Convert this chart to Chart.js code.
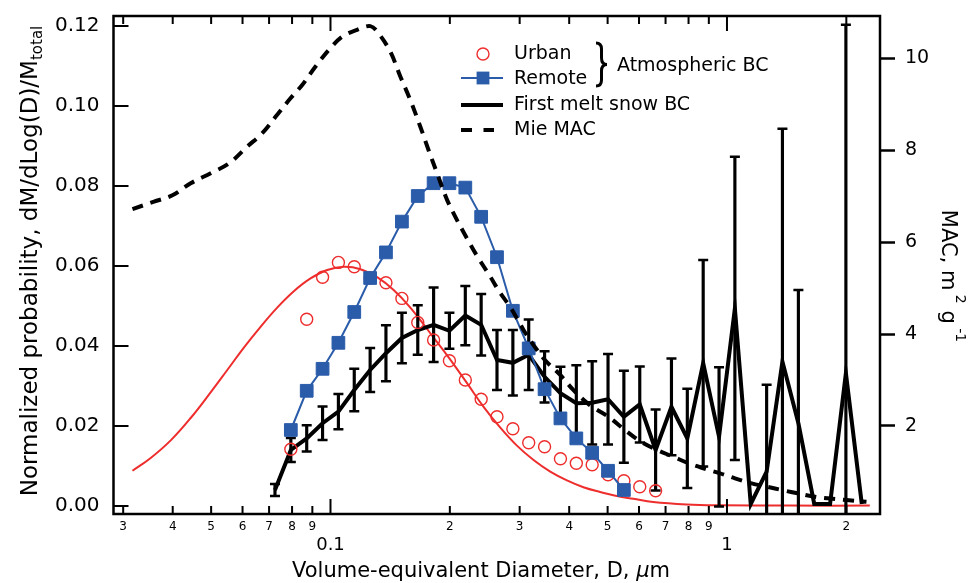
<!DOCTYPE html>
<html>
<head>
<meta charset="utf-8">
<script src="https://cdn.jsdelivr.net/npm/chart.js@4.4.1/dist/chart.umd.min.js"></script>
<style>
  html, body { margin: 0; padding: 0; background: #fff; }
  #grafico { display: block; }
</style>
</head>
<body>
<canvas id="grafico" width="971" height="583"></canvas>
<script>
// -------- DATOS --------
// diametros de los bins (um)
const binD = [0.07244, 0.07943, 0.08710, 0.09550, 0.1047, 0.1148, 0.1259, 0.1380, 0.1514, 0.1660,
    0.1820, 0.1995, 0.2188, 0.2399, 0.2630, 0.2884, 0.3162, 0.3467, 0.3802, 0.4169,
    0.4571, 0.5012, 0.5495, 0.6026, 0.6607, 0.7244, 0.7943, 0.8710, 0.9550, 1.047,
    1.148, 1.259, 1.380, 1.514, 1.660, 1.820, 1.995, 2.188];

const snowVals = [0.0040, 0.0140, 0.0169, 0.0207, 0.0236, 0.0290, 0.0340, 0.0382, 0.0420, 0.0440,
    0.0453, 0.0438, 0.0476, 0.0453, 0.0365, 0.0358, 0.0378, 0.0323, 0.0282, 0.0257,
    0.0258, 0.0267, 0.0223, 0.0254, 0.0140, 0.0248, 0.0169, 0.0357, 0.0173, 0.0494,
    0.0005, 0.0086, 0.0361, 0.0207, 0.0005, 0.0005, 0.0332, 0.0005];

const snowErr = [0.0015, 0.0030, 0.0033, 0.0042, 0.0044, 0.0053, 0.0055, 0.0070, 0.0063, 0.0062,
    0.0093, 0.0045, 0.0074, 0.0077, 0.0075, 0.0082, 0.0088, 0.0064, 0.0066, 0.0095,
    0.0104, 0.0113, 0.0115, 0.0095, 0.0101, 0.0121, 0.0124, 0.0258, 0.0174, 0.0379,
    0, 0.0217, 0.0582, 0.0333, 0, 0, 0.0871, 0];

const urbanD = binD.slice(1, 25);
const urbanVals = [0.0142, 0.0467, 0.0572, 0.0609, 0.0598, 0.0570, 0.0558, 0.0519, 0.0459, 0.0415,
    0.0363, 0.0315, 0.0267, 0.0223, 0.0193, 0.0158, 0.0148, 0.0118, 0.0107, 0.0103,
    0.0078, 0.0063, 0.0048, 0.0038];

const remoteD = binD.slice(1, 23);
const remoteVals = [0.0190, 0.0288, 0.0343, 0.0408, 0.0485, 0.0570, 0.0634, 0.0711, 0.0775, 0.0807,
    0.0807, 0.0796, 0.0723, 0.0622, 0.0488, 0.0394, 0.0292, 0.0219, 0.0169, 0.0133,
    0.0088, 0.0040];

// ajuste lognormal urbano (curva roja)
const fitD = [0.03166, 0.03520, 0.03954, 0.04440, 0.04985, 0.05492, 0.06046, 0.06662, 0.07338, 0.08082,
    0.08906, 0.09811, 0.1080, 0.1190, 0.1311, 0.1443, 0.1590, 0.1820, 0.2005, 0.2210,
    0.2433, 0.2681, 0.2953, 0.3252, 0.3583, 0.3948, 0.4345, 0.4787, 0.5274, 0.5808,
    0.6510, 0.7915, 0.9603, 1.441, 2.292];
const fitVals = [0.0088, 0.0120, 0.0164, 0.0220, 0.0284, 0.0340, 0.0396, 0.0448, 0.0496, 0.0537,
    0.0569, 0.0590, 0.0598, 0.0592, 0.0572, 0.0540, 0.0496, 0.0421, 0.0366, 0.0307,
    0.0248, 0.0196, 0.0151, 0.0115, 0.0086, 0.0064, 0.0047, 0.0035, 0.0025, 0.0018,
    0.0010, 0.0004, 0.0002, 0.0001, 0.0001];

// Mie MAC (eje derecho)
const mieD = [0.03166, 0.03588, 0.03993, 0.04440, 0.04985, 0.05542, 0.06169, 0.06729, 0.07338, 0.07927,
    0.08485, 0.09168, 0.09902, 0.1070, 0.1168, 0.1261, 0.1323, 0.1416, 0.1501, 0.1590,
    0.1685, 0.1768, 0.1857, 0.1968, 0.2085, 0.2210, 0.2342, 0.2529, 0.2681, 0.2840,
    0.3068, 0.3252, 0.3479, 0.3797, 0.4101, 0.4517, 0.5024, 0.5533, 0.6036, 0.6651,
    0.7322, 0.7990, 0.8714, 0.9603, 1.0476, 1.1538, 1.2589, 1.3867, 1.5182, 1.6663,
    1.8281, 2.0026, 2.2481];
const mieMAC = [6.72, 6.88, 7.02, 7.28, 7.50, 7.71, 8.08, 8.37, 8.77, 9.13,
    9.42, 9.82, 10.18, 10.47, 10.62, 10.70, 10.54, 10.14, 9.60, 9.09,
    8.51, 8.00, 7.50, 6.92, 6.48, 6.08, 5.70, 5.25, 4.89, 4.59,
    4.09, 3.76, 3.43, 3.11, 2.78, 2.45, 2.20, 1.91, 1.67, 1.48,
    1.33, 1.19, 1.08, 0.97, 0.86, 0.75, 0.68, 0.60, 0.53, 0.46,
    0.42, 0.39, 0.35];

// ticks
const xTickValues = [0.03, 0.04, 0.05, 0.06, 0.07, 0.08, 0.09, 0.1, 0.2, 0.3, 0.4, 0.5, 0.6, 0.7, 0.8, 0.9, 1, 2];
const xTickLabels = ["3", "4", "5", "6", "7", "8", "9", ["", "0.1"], "2", "3", "4", "5", "6", "7", "8", "9", ["", "1"], "2"];
const xMajor = [0.1, 1];
const yTicks = [0, 0.02, 0.04, 0.06, 0.08, 0.10, 0.12];
const macTicks = [2, 4, 6, 8, 10];

// -------- HELPERS --------
const FAMILIA = "'DejaVu Sans', sans-serif";
const rojo = "#ee2d2d";
const azul = "#2a5caa";

function puntos(xs, ys) {
    return xs.map((x, i) => ({ x: x, y: ys[i] }));
}

function escribir(ctx, partes, x, y, centrar) {
    // partes: [texto, tamaño, desplazamiento vertical, italica]
    const fuente = p => (p[3] ? "italic " : "") + p[1] + "px " + FAMILIA;
    let ancho = 0;
    partes.forEach(p => { ctx.font = fuente(p); ancho += ctx.measureText(p[0]).width; });
    let cx = centrar ? x - ancho / 2 : x;
    partes.forEach(p => {
        ctx.font = fuente(p);
        ctx.fillText(p[0], cx, y + (p[2] || 0));
        cx += ctx.measureText(p[0]).width;
    });
}

// sin relleno automatico de los ejes: el area del grafico queda fija
function sinRelleno(s) {
    s.paddingTop = 0;
    s.paddingBottom = 0;
    s.paddingLeft = 0;
    s.paddingRight = 0;
}

// barras de error y topes
const errBars = [];
const errCaps = [];
binD.forEach((d, i) => {
    if (snowErr[i] > 0) {
        errBars.push({ x: d, y: [snowVals[i] - snowErr[i], snowVals[i] + snowErr[i]] });
        errCaps.push({ x: d, y: snowVals[i] - snowErr[i] });
        errCaps.push({ x: d, y: snowVals[i] + snowErr[i] });
    }
});

// -------- PLUGINS --------
const marcoPlugin = {
    id: "marco",
    afterDraw(chart) {
        const { ctx, chartArea: a, scales } = chart;
        ctx.save();
        ctx.strokeStyle = "#000";
        ctx.lineWidth = 2;
        ctx.beginPath();
        xTickValues.forEach(v => {
            const px = scales.x.getPixelForValue(v);
            const largo = xMajor.includes(v) ? 15 : 8;
            ctx.moveTo(px, a.bottom);
            ctx.lineTo(px, a.bottom - largo);
            ctx.moveTo(px, a.top);
            ctx.lineTo(px, a.top + largo);
        });
        yTicks.forEach(v => {
            const py = scales.y.getPixelForValue(v);
            ctx.moveTo(a.left, py);
            ctx.lineTo(a.left + 15, py);
        });
        ctx.stroke();
        ctx.lineWidth = 2.5;
        ctx.strokeRect(a.left, a.top, a.right - a.left, a.bottom - a.top);
        ctx.restore();
    }
};

const titulosPlugin = {
    id: "titulos",
    afterDraw(chart) {
        const ctx = chart.ctx;
        ctx.save();
        ctx.fillStyle = "#000";
        ctx.textBaseline = "alphabetic";
        escribir(ctx, [["Volume-equivalent Diameter, D, ", 21], ["\u00b5", 21, 0, true], ["m", 21]], 481, 577, true);

        ctx.save();
        ctx.translate(37, 261);
        ctx.rotate(-Math.PI / 2);
        escribir(ctx, [["Normalized probability, dM/dLog(D)/M", 23], ["total", 15, 5]], 0, 0, true);
        ctx.restore();

        ctx.save();
        ctx.translate(942, 276);
        ctx.rotate(Math.PI / 2);
        escribir(ctx, [["MAC, m", 21], [" 2", 14, -14], [" g", 21], [" -1", 14, -14]], 0, 0, true);
        ctx.restore();
        ctx.restore();
    }
};

const leyendaPlugin = {
    id: "leyenda",
    afterDraw(chart) {
        const ctx = chart.ctx;
        ctx.save();
        // Urban
        ctx.strokeStyle = rojo;
        ctx.lineWidth = 1.4;
        ctx.beginPath();
        ctx.arc(483, 54, 6, 0, 2 * Math.PI);
        ctx.stroke();
        // Remote
        ctx.strokeStyle = azul;
        ctx.lineWidth = 2;
        ctx.beginPath();
        ctx.moveTo(461, 78);
        ctx.lineTo(503, 78);
        ctx.stroke();
        ctx.fillStyle = azul;
        ctx.fillRect(483 - 6.4, 78 - 6.4, 12.8, 12.8);
        // First melt snow BC
        ctx.strokeStyle = "#000";
        ctx.lineWidth = 4;
        ctx.beginPath();
        ctx.moveTo(461, 105);
        ctx.lineTo(503, 105);
        ctx.stroke();
        // Mie MAC
        ctx.setLineDash([11, 11.5]);
        ctx.beginPath();
        ctx.moveTo(461, 130);
        ctx.lineTo(494, 130);
        ctx.stroke();
        ctx.setLineDash([]);
        // llave
        ctx.lineWidth = 3;
        ctx.beginPath();
        ctx.moveTo(596, 43);
        ctx.quadraticCurveTo(601.5, 43, 601.5, 49);
        ctx.lineTo(601.5, 58);
        ctx.quadraticCurveTo(601.5, 64.5, 607, 64.5);
        ctx.quadraticCurveTo(601.5, 64.5, 601.5, 71);
        ctx.lineTo(601.5, 80);
        ctx.quadraticCurveTo(601.5, 86, 596, 86);
        ctx.stroke();
        // textos
        ctx.fillStyle = "#000";
        ctx.font = "19px " + FAMILIA;
        ctx.textBaseline = "middle";
        ctx.fillText("Urban", 514, 54);
        ctx.fillText("Remote", 514, 79);
        ctx.fillText("First melt snow BC", 514, 105);
        ctx.fillText("Mie MAC", 514, 130);
        ctx.fillText("Atmospheric BC", 617, 66);
        ctx.restore();
    }
};

// -------- GRAFICO --------
Chart.defaults.font.family = FAMILIA;
Chart.defaults.color = "#000";

new Chart(document.getElementById("grafico"), {
    type: "line",
    data: {
        datasets: [
            {
                label: "Mie MAC",
                data: puntos(mieD, mieMAC),
                yAxisID: "y2",
                borderColor: "#000",
                borderWidth: 4,
                borderDash: [11, 8],
                pointRadius: 0,
                tension: 0.35,
                order: 0
            },
            {
                label: "Remote",
                data: puntos(remoteD, remoteVals),
                borderColor: azul,
                backgroundColor: azul,
                borderWidth: 2,
                pointStyle: "rect",
                pointRadius: 9,
                pointBorderWidth: 1,
                order: 1
            },
            {
                label: "Urban",
                data: puntos(urbanD, urbanVals),
                showLine: false,
                pointStyle: "circle",
                pointRadius: 6,
                pointBorderWidth: 1.4,
                borderColor: rojo,
                backgroundColor: "rgba(255,255,255,0)",
                order: 2
            },
            {
                label: "First melt snow BC",
                data: puntos(binD, snowVals),
                borderColor: "#000",
                borderWidth: 4,
                pointRadius: 0,
                order: 3
            },
            {
                label: "caps",
                data: errCaps,
                showLine: false,
                pointStyle: "line",
                pointRadius: 5,
                pointBorderWidth: 2.5,
                borderColor: "#000",
                order: 4
            },
            {
                type: "bar",
                label: "err",
                data: errBars,
                backgroundColor: "#000",
                borderWidth: 0,
                barThickness: 2.5,
                order: 5
            },
            {
                label: "fit",
                data: puntos(fitD, fitVals),
                borderColor: rojo,
                borderWidth: 2,
                pointRadius: 0,
                tension: 0.4,
                order: 6
            }
        ]
    },
    options: {
        responsive: false,
        animation: false,
        layout: { padding: { top: 16, left: 0, right: 0, bottom: 0 } },
        plugins: {
            legend: { display: false },
            tooltip: { enabled: false }
        },
        scales: {
            x: {
                type: "logarithmic",
                position: "bottom",
                min: 0.02836,
                max: 2.432,
                offset: false,
                grid: { display: false, drawTicks: false, offset: false },
                border: { display: false },
                afterBuildTicks: s => { s.ticks = xTickValues.map(v => ({ value: v })); },
                afterFit: s => { s.height = 69; sinRelleno(s); },
                ticks: {
                    autoSkip: false,
                    maxRotation: 0,
                    minRotation: 0,
                    padding: 6,
                    color: "#000",
                    font: c => (c.tick && xMajor.includes(c.tick.value))
                        ? { family: FAMILIA, size: 18, lineHeight: 0.92 }
                        : { family: FAMILIA, size: 12, lineHeight: 1.2 },
                    callback: (v, i) => xTickLabels[i]
                }
            },
            y: {
                type: "linear",
                position: "left",
                min: -0.002,
                max: 0.1225,
                grid: { display: false, drawTicks: false },
                border: { display: false },
                afterBuildTicks: s => { s.ticks = yTicks.map(v => ({ value: v })); },
                afterFit: s => { s.width = 113.5; sinRelleno(s); },
                ticks: {
                    padding: 14,
                    font: { size: 20 },
                    callback: v => v.toFixed(2)
                }
            },
            y2: {
                type: "linear",
                position: "right",
                min: 0.085,
                max: 10.92,
                grid: {
                    display: true,
                    drawOnChartArea: false,
                    drawTicks: true,
                    tickLength: 15,
                    tickWidth: 2.5,
                    tickColor: "#000"
                },
                border: { display: false },
                afterBuildTicks: s => { s.ticks = macTicks.map(v => ({ value: v })); },
                afterFit: s => { s.width = 91; sinRelleno(s); },
                ticks: {
                    padding: 10,
                    font: { size: 19 },
                    callback: v => String(v)
                }
            }
        }
    },
    plugins: [marcoPlugin, titulosPlugin, leyendaPlugin]
});
</script>
</body>
</html>
